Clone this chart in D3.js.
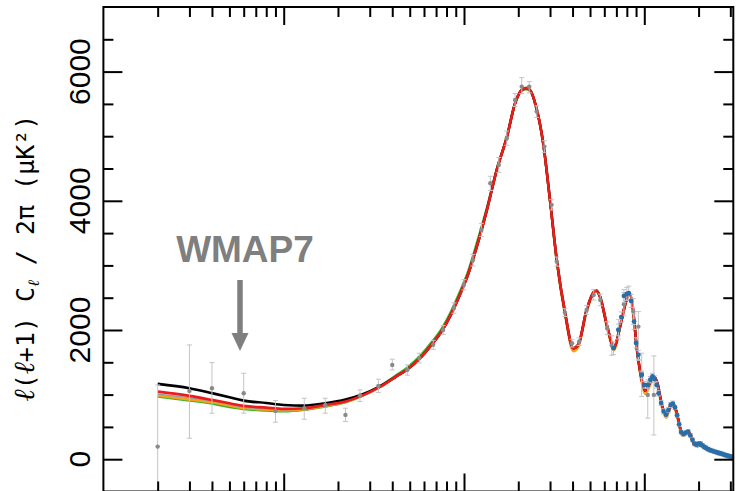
<!DOCTYPE html>
<html>
<head>
<meta charset="utf-8">
<script src="https://cdn.jsdelivr.net/npm/d3@7"></script>
<style>
  body { margin: 0; background: #fff; }
  svg { display: block; }
</style>
</head>
<body>
<svg id="chart"></svg>
<script>
// multipole grid for the model curves
const ellGrid = [2,3,4,5,6,8,10,13,17,22, 27,34,42,48,57,66,75,85,95,105,
  118,134,152,173,192,209,221,232,251,275, 300,327,364,404,430,479,540,568,623,679,
  733,791,826,862,907,960,1009,1060,1122,1183, 1250,1319,1380,1438,1500,1560,1613,1680,1755,1830,
  1910,1980,2037,2150,2313,2480,2630,2800,2990,3100];

const redD = [1046,980,918,867,825,799,779,789,840,892, 980,1115,1279,1382,1563,1770,1976,2250,2550,2850,
  3300,3860,4480,4990,5510,5717,5745,5717,5458,4890, 4010,3085,2259,1718,1770,2314,2613,2520,2052,1734,
  2052,2440,2579,2362,1743,1280,1060,1150,1285,1176, 850,686,800,870,760,560,400,400,427,330,
  222,235,245,190,144,115,93,65,43,35];

const blackD = [1166,1099,1023,960,907,870,840,830,867,925, 1000,1124,1279,1382,1563,1770,1976,2250,2550,2850,
  3300,3860,4480,4990,5510,5717,5745,5717,5458,4890, 4010,3085,2259,1718,1770,2314,2613,2520,2052,1734,
  2052,2440,2579,2362,1743,1280,1060,1150,1285,1176, 850,686,800,870,760,560,400,400,427,330,
  215,205,215,170,125,100,80,55,35,28];

const greenD = [969,907,860,805,774,752,740,763,814,880, 975,1125,1300,1410,1600,1810,2020,2300,2600,2900,
  3360,3900,4500,5000,5500,5700,5725,5700,5440,4880, 3990,3060,2230,1700,1760,2300,2600,2510,2040,1720,
  2040,2430,2570,2350,1735,1270,1050,1140,1275,1165, 840,675,790,860,750,550,390,390,418,320,
  215,222,232,182,138,110,88,60,40,32];

const orangeD = [984,925,880,830,790,768,755,772,825,888, 978,1115,1279,1382,1563,1770,1976,2250,2550,2850,
  3300,3860,4480,4990,5510,5717,5745,5717,5458,4890, 3990,3050,2220,1670,1730,2290,2600,2500,2020,1690,
  2020,2420,2570,2340,1710,1240,1010,1100,1250,1140, 810,640,760,840,720,520,365,370,400,300,
  205,200,218,172,130,103,84,58,38,30];

const greyD = [1010,950,900,850,805,785,765,780,832,895, 982,1115,1279,1382,1563,1770,1976,2250,2550,2850,
  3300,3860,4480,4990,5510,5717,5745,5717,5458,4890, 4010,3085,2259,1718,1770,2314,2613,2520,2052,1734,
  2052,2440,2579,2362,1743,1280,1060,1150,1285,1176, 850,686,800,870,760,560,400,400,427,330,
  222,235,245,190,144,115,93,65,43,35];

// WMAP7 band powers (grey) with lower / upper error
const wmapEll = [2,3,4,6,9,13,17,22,26.5,33.5, 40,48.5,56.5,67.5,76.6,88,100,112,125,140,
  156,172.6,192,209,230,253,279,306,327,363, 397,435,479,524,570,623,660,720,771,869,
  927,967,1045,1130];
const wmapD = [195,1057,1099,1022,748,789,840,686,985,1135, 1460,1382,1563,1770,2000,2340,2700,3080,3550,4272,
  4556,4969,5562,5768,5768,5381,4839,3937,3059,2269, 1796,1820,2311,2543,2466,2028,1760,2010,2400,2285,
  2053,1331,995,995];
const wmapLo = [-700,325,712,712,573,619,712,582,892,1031, 1382,1300,1490,1700,1930,2260,2620,2990,3450,4160,
  4440,4860,5460,5660,5670,5290,4750,3857,2989,2209, 1736,1760,2241,2463,2376,1928,1610,1860,2220,2085,
  1530,969,635,375];
const wmapHi = [1150,1769,1495,1331,907,944,944,789,1073,1238, 1548,1460,1640,1840,2070,2420,2780,3170,3650,4380,
  4670,5080,5660,5907,5845,5470,4930,4017,3129,2329, 1856,1880,2381,2623,2556,2128,1910,2160,2580,2485,
  2285,1641,1228,1599];

// high-l band powers (blue)
const hiEll = [675,718,745,771,800,820,845,877,900,927, 968,1000,1045,1080,1110,1140,1170,1200,1240,1280,
  1320,1360,1400,1440,1480,1520,1560,1600,1650,1700, 1750,1800,1850,1900,1950,2000,2050,2100,2150,2200,
  2260,2320,2380,2440,2500,2560,2620,2680,2740,2800, 2860,2920,2980,3040];
const hiD = [1718,2001,2200,2528,2560,2570,2450,2130,1800,1615, 1305,1150,1150,1230,1280,1240,1150,1020,870,740,
  690,760,840,860,800,680,540,420,390,410, 425,370,300,240,225,240,240,215,190,175,
  155,140,130,118,110,100,92,85,75,66, 58,50,44,40];
const hiErr = [100,90,80,100,100,110,100,120,80,70, 60,50,50,50,50,50,50,40,40,40,
  40,40,40,40,30,30,30,30,30,30, 30,30,30,30,30,30,30,30,30,30,
  30,30,30,30,30,30,30,30,30,30, 30,30,30,30];

const yMajor = [0, 2000, 4000, 6000];
const yMinor = [500,1000,1500,2500,3000,3500,4500,5000,5500,6500];
const xMajor = [10, 100, 1000];
const xMinor = [2,3,4,5,6,7,8,9,20,30,40,50,60,70,80,90,200,300,400,500,600,700,800,900,2000,3000];

const width = 738, height = 491;
const svg = d3.select('#chart').attr('width', width).attr('height', height);

const x = d3.scaleLog().domain([1, 3116]).range([103.4, 733.3]);
const y = d3.scaleLinear().domain([-500, 7000]).range([491.5, 7]);

const x0 = x(1), x1 = x(3116), yTop = y(7000), yBot = y(-500);

svg.append('clipPath').attr('id', 'plotclip')
  .append('rect').attr('x', x0).attr('y', yTop).attr('width', x1 - x0).attr('height', yBot - yTop);

const plot = svg.append('g').attr('clip-path', 'url(#plotclip)');

// model curves
const models = [
  { vals: greenD, color: '#3db32a', w: 2.2 },
  { vals: orangeD, color: '#f7a21b', w: 2.4 },
  { vals: greyD, color: '#a09a9a', w: 1.6 },
  { vals: blackD, color: '#000000', w: 2.6 },
  { vals: redD, color: '#ec1c1c', w: 2.6 }
];
const line = d3.line()
  .x(d => x(d[0]))
  .y(d => y(d[1]))
  .curve(d3.curveMonotoneX);

models.forEach(m => {
  plot.append('path')
    .datum(ellGrid.map((l, i) => [l, m.vals[i]]))
    .attr('d', line)
    .attr('fill', 'none')
    .attr('stroke', m.color)
    .attr('stroke-width', m.w)
    .attr('stroke-linejoin', 'round');
});

// error bars + points
function drawPoints(ells, vals, lo, hi, barColor, dotColor, r) {
  const g = plot.append('g');
  ells.forEach((l, i) => {
    const cx = x(l);
    g.append('line').attr('x1', cx).attr('x2', cx)
      .attr('y1', y(lo[i])).attr('y2', y(hi[i]))
      .attr('stroke', barColor).attr('stroke-width', 1);
    [lo[i], hi[i]].forEach(v => {
      g.append('line').attr('x1', cx - 2.5).attr('x2', cx + 2.5)
        .attr('y1', y(v)).attr('y2', y(v))
        .attr('stroke', barColor).attr('stroke-width', 1);
    });
  });
  g.selectAll('circle').data(ells).enter().append('circle')
    .attr('cx', d => x(d))
    .attr('cy', (d, i) => y(vals[i]))
    .attr('r', r)
    .attr('fill', dotColor);
}

drawPoints(wmapEll, wmapD, wmapLo, wmapHi, '#c4c4c4', '#8a8a8a', 2.2);
drawPoints(hiEll, hiD, hiD.map((v, i) => v - hiErr[i]), hiD.map((v, i) => v + hiErr[i]),
  '#b8c4d0', '#2a6ea8', 2.4);

// axes (inward ticks)
function styleAxis(g) {
  g.select('.domain').remove();
  g.selectAll('text').remove();
  g.selectAll('.tick line').attr('stroke', '#000').attr('stroke-width', 2);
}
svg.append('g').attr('transform', `translate(0,${yBot})`)
  .call(d3.axisBottom(x).tickValues(xMajor).tickSize(-18).tickFormat('')).call(styleAxis);
svg.append('g').attr('transform', `translate(0,${yBot})`)
  .call(d3.axisBottom(x).tickValues(xMinor).tickSize(-10).tickFormat('')).call(styleAxis);
svg.append('g').attr('transform', `translate(0,${yTop})`)
  .call(d3.axisTop(x).tickValues(xMajor).tickSize(-18).tickFormat('')).call(styleAxis);
svg.append('g').attr('transform', `translate(0,${yTop})`)
  .call(d3.axisTop(x).tickValues(xMinor).tickSize(-10).tickFormat('')).call(styleAxis);
svg.append('g').attr('transform', `translate(${x0},0)`)
  .call(d3.axisLeft(y).tickValues(yMajor).tickSize(-19).tickFormat('')).call(styleAxis);
svg.append('g').attr('transform', `translate(${x0},0)`)
  .call(d3.axisLeft(y).tickValues(yMinor).tickSize(-10).tickFormat('')).call(styleAxis);
svg.append('g').attr('transform', `translate(${x1},0)`)
  .call(d3.axisRight(y).tickValues(yMajor).tickSize(-19).tickFormat('')).call(styleAxis);
svg.append('g').attr('transform', `translate(${x1},0)`)
  .call(d3.axisRight(y).tickValues(yMinor).tickSize(-10).tickFormat('')).call(styleAxis);

// frame
svg.append('rect')
  .attr('x', x0).attr('y', yTop)
  .attr('width', x1 - x0).attr('height', yBot - yTop)
  .attr('fill', 'none').attr('stroke', '#000').attr('stroke-width', 2);

// y tick labels (rotated)
svg.selectAll('.ylab').data(yMajor).enter().append('text')
  .attr('class', 'ylab')
  .attr('transform', d => `translate(90,${y(d)}) rotate(-90)`)
  .attr('text-anchor', 'middle')
  .attr('font-family', '"Liberation Sans", Arial, sans-serif')
  .attr('font-size', 30)
  .attr('fill', '#000')
  .text(d => d);

// y axis title
const title = svg.append('text')
  .attr('transform', 'translate(34,258) rotate(-90)')
  .attr('text-anchor', 'middle')
  .attr('font-family', '"DejaVu Sans Mono", monospace')
  .attr('font-size', 25)
  .attr('fill', '#000');
const ellSpan = (t, sz) => title.append('tspan')
  .attr('font-family', '"DejaVu Serif", serif').attr('font-style', 'italic')
  .attr('font-size', sz).text(t);
ellSpan('ℓ', 29);
title.append('tspan').text('(');
ellSpan('ℓ', 29);
title.append('tspan').text('+1) C');
title.append('tspan').attr('font-family', '"DejaVu Serif", serif').attr('font-style', 'italic')
  .attr('font-size', 16).attr('dy', 5).text('ℓ');
title.append('tspan').attr('dy', -5).text(' / 2π (μK²)');

// WMAP7 annotation
svg.append('text')
  .attr('x', 245).attr('y', 261.5)
  .attr('text-anchor', 'middle')
  .attr('font-family', '"Liberation Sans", Arial, sans-serif')
  .attr('font-weight', 'bold')
  .attr('font-size', 37)
  .attr('fill', '#7f7f7f')
  .text('WMAP7');
svg.append('line')
  .attr('x1', 240).attr('x2', 240).attr('y1', 280).attr('y2', 336)
  .attr('stroke', '#7f7f7f').attr('stroke-width', 5.5);
svg.append('path')
  .attr('d', d3.line()([[231.5, 333], [248.5, 333], [240, 351]]) + 'Z')
  .attr('fill', '#7f7f7f');
</script>
</body>
</html>
